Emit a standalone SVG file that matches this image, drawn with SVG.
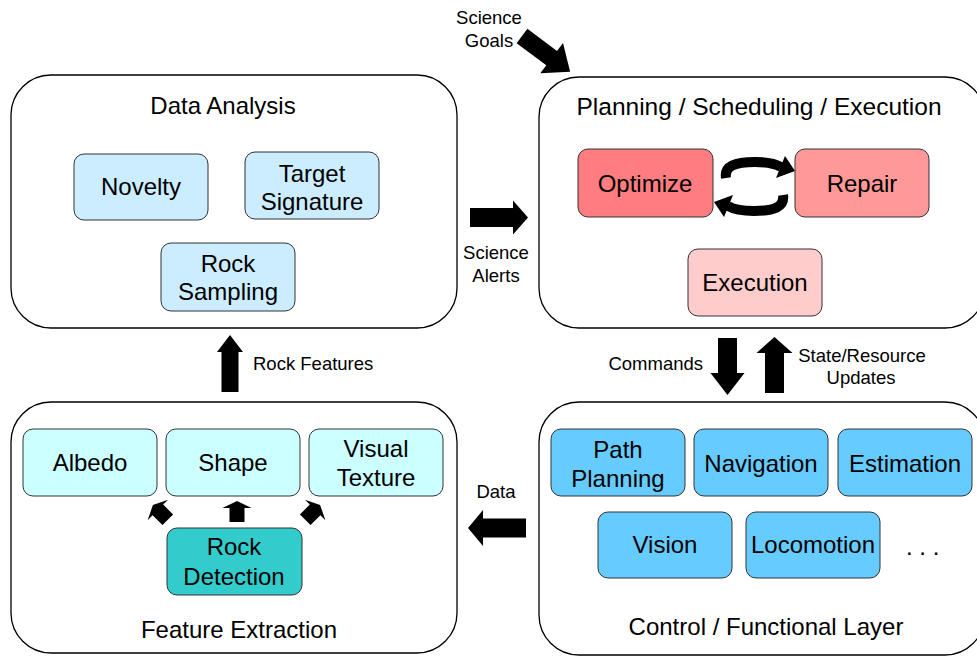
<svg xmlns="http://www.w3.org/2000/svg" width="977" height="656" viewBox="0 0 977 656">
<style>
text{font-family:"Liberation Sans",Arial,sans-serif;fill:#000}
.big{font-size:24px;text-anchor:middle}
.sm{font-size:18.5px;text-anchor:middle}
.cont{fill:#fff;stroke:#000;stroke-width:1.3}
.box{stroke:#333;stroke-width:1}
.da{fill:#CCECFF}
.fe{fill:#CCFFFF}
.cf{fill:#66CCFF}
.arr{fill:#000;stroke:none}
</style>
<rect width="977" height="656" fill="#fff"/>
<g id="data-analysis">
<rect class="cont" x="11" y="75" width="446" height="253" rx="40"/>
<text class="big" x="223" y="114">Data Analysis</text>
</g>
<g id="novelty"><rect class="box da" x="74" y="154" width="134" height="66" rx="10"/><text class="big" x="141" y="195">Novelty</text></g>
<g id="target-signature"><rect class="box da" x="245" y="152" width="134" height="67" rx="10"/><text class="big" x="312" y="182">Target</text><text class="big" x="312" y="210">Signature</text></g>
<g id="rock-sampling"><rect class="box da" x="161" y="243" width="134" height="68" rx="10"/><text class="big" x="228" y="272">Rock</text><text class="big" x="228" y="300">Sampling</text></g>

<g id="planning">
<rect class="cont" x="539" y="77" width="446" height="251" rx="40"/>
<text class="big" x="759" y="115" style="font-size:24.5px">Planning / Scheduling / Execution</text>
</g>
<g id="optimize"><rect class="box" fill="#FF7C80" x="578" y="149" width="135" height="68" rx="10"/><text class="big" x="645" y="192">Optimize</text></g>
<g id="repair"><rect class="box" fill="#FF9999" x="795" y="149" width="134" height="68" rx="10"/><text class="big" x="862" y="192">Repair</text></g>
<g id="execution"><rect class="box" fill="#FFCCCC" x="688" y="249" width="134" height="67" rx="10"/><text class="big" x="755" y="291">Execution</text></g>

<g id="feature-extraction">
<rect class="cont" x="11" y="402" width="446" height="251" rx="40"/>
<text class="big" x="239" y="638">Feature Extraction</text>
</g>
<g id="albedo"><rect class="box fe" x="23" y="429" width="134" height="67" rx="10"/><text class="big" x="90" y="471">Albedo</text></g>
<g id="shape"><rect class="box fe" x="166" y="429" width="134" height="67" rx="10"/><text class="big" x="233" y="471">Shape</text></g>
<g id="visual-texture"><rect class="box fe" x="309" y="429" width="134" height="67" rx="10"/><text class="big" x="376" y="457">Visual</text><text class="big" x="376" y="486">Texture</text></g>
<g id="rock-detection"><rect class="box" fill="#33CCCC" x="167" y="528" width="135" height="67" rx="10"/><text class="big" x="234" y="555">Rock</text><text class="big" x="234" y="585">Detection</text></g>

<g id="control">
<rect class="cont" x="539" y="402" width="446" height="253" rx="40"/>
<text class="big" x="766" y="635">Control / Functional Layer</text>
<text class="big" x="906" y="555" style="text-anchor:start">. . .</text>
</g>
<g id="path-planning"><rect class="box cf" x="551" y="429" width="134" height="67" rx="10"/><text class="big" x="618" y="458">Path</text><text class="big" x="618" y="487">Planning</text></g>
<g id="navigation"><rect class="box cf" x="694" y="429" width="134" height="67" rx="10"/><text class="big" x="761" y="472">Navigation</text></g>
<g id="estimation"><rect class="box cf" x="838" y="429" width="134" height="67" rx="10"/><text class="big" x="905" y="472">Estimation</text></g>
<g id="vision"><rect class="box cf" x="598" y="512" width="134" height="66" rx="10"/><text class="big" x="665" y="553">Vision</text></g>
<g id="locomotion"><rect class="box cf" x="746" y="512" width="134" height="66" rx="10"/><text class="big" x="813" y="553">Locomotion</text></g>

<g id="connectors">
<polygon class="arr" transform="translate(522,36) rotate(36.7)" points="0,-9 37,-9 37,-19 60,0 37,19 37,9 0,9"/>
<text class="sm" x="489" y="24">Science</text>
<text class="sm" x="489" y="47">Goals</text>
<polygon class="arr" transform="translate(470,217.5)" points="0,-9.5 43,-9.5 43,-17 58,0 43,17 43,9.5 0,9.5"/>
<text class="sm" x="496" y="259">Science</text>
<text class="sm" x="496" y="282">Alerts</text>
<polygon class="arr" transform="translate(526,528) rotate(180)" points="0,-9.5 43,-9.5 43,-18 58,0 43,18 43,9.5 0,9.5"/>
<text class="sm" x="496" y="498">Data</text>
<polygon class="arr" transform="translate(230,392) rotate(-90)" points="0,-8.5 40,-8.5 40,-13 57,0 40,13 40,8.5 0,8.5"/>
<text class="sm" x="253" y="370" style="text-anchor:start">Rock Features</text>
<polygon class="arr" transform="translate(727.5,338) rotate(90)" points="0,-9.5 35,-9.5 35,-17 57,0 35,17 35,9.5 0,9.5"/>
<text class="sm" x="703" y="370" style="text-anchor:end">Commands</text>
<polygon class="arr" transform="translate(774.5,393) rotate(-90)" points="0,-9.5 40,-9.5 40,-18 56,0 40,18 40,9.5 0,9.5"/>
<text class="sm" x="862" y="362">State/Resource</text>
<text class="sm" x="861" y="384">Updates</text>
<g id="cycle">
<path d="M726,178 C724,166 735,162 755,162 C767,162 775,163.5 781,167" fill="none" stroke="#000" stroke-width="10"/>
<polygon class="arr" points="795,171 785,156 776,178"/>
<g transform="rotate(180 754.5 186.5)">
<path d="M726,178 C724,166 735,162 755,162 C767,162 775,163.5 781,167" fill="none" stroke="#000" stroke-width="10"/>
<polygon class="arr" points="795,171 785,156 776,178"/>
</g>
</g>
<polygon class="arr" transform="translate(237,501)" points="0,0 14.5,7 7.5,7 7.5,21 -7.5,21 -7.5,7 -14.5,7"/>
<polygon class="arr" transform="translate(160,512) rotate(-45) translate(0,-10)" points="0,0 14.5,7 7.5,7 7.5,21 -7.5,21 -7.5,7 -14.5,7"/>
<polygon class="arr" transform="translate(313,512) rotate(45) translate(0,-10)" points="0,0 14.5,7 7.5,7 7.5,21 -7.5,21 -7.5,7 -14.5,7"/>
</g>
</svg>
